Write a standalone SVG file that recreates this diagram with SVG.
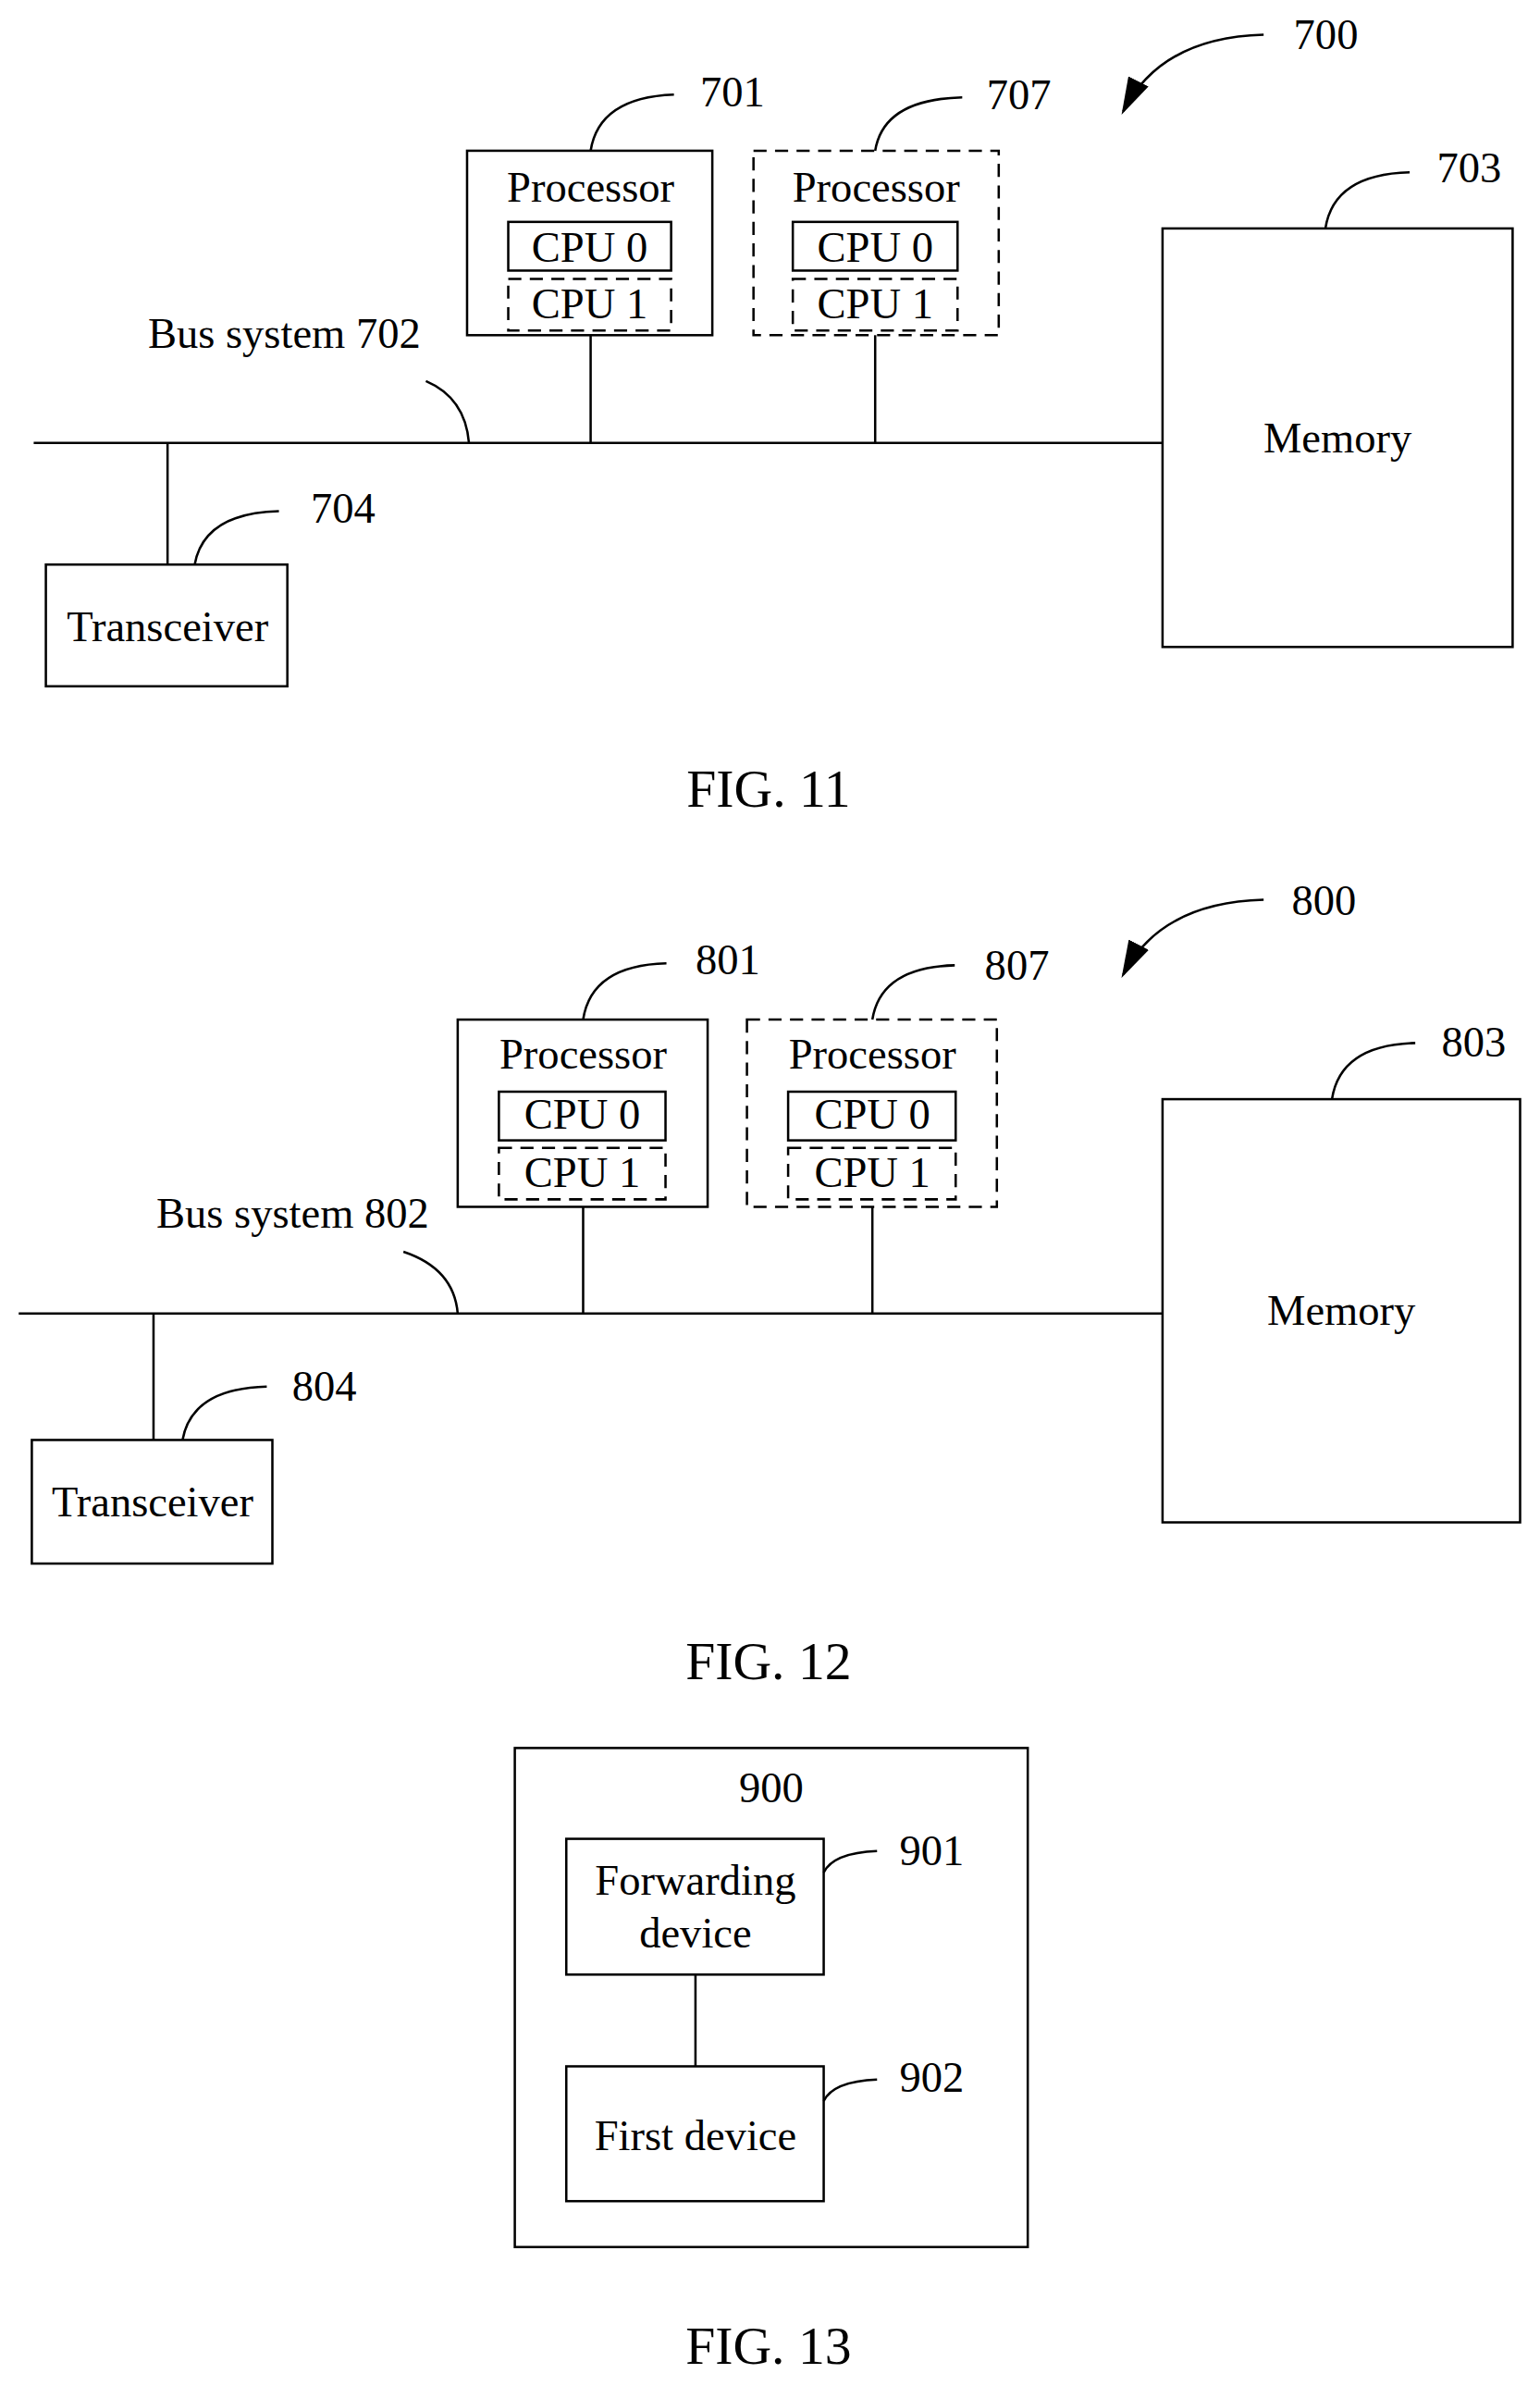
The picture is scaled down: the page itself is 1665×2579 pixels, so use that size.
<svg xmlns="http://www.w3.org/2000/svg" width="1665" height="2579" viewBox="0 0 1665 2579">
<style>
rect,path,line{fill:none;stroke:#000;stroke-width:2.5}
.d{stroke-dasharray:14,9}
text{font-family:"Liberation Serif","Times New Roman",serif;font-size:46px;fill:#000}
.c{text-anchor:middle}
.f{font-size:57px}
</style>
<defs><marker id="a" viewBox="0 0 20 20" refX="18" refY="10" markerWidth="40" markerHeight="40" orient="auto" markerUnits="userSpaceOnUse"><path d="M0,4 L20,10 L0,16 z" style="fill:#000;stroke:none"/></marker></defs>
<g transform="scale(1.012)">
<g id="fig11">
<g id="p701"><rect x="499" y="161" width="262" height="197"/><text class="c" x="631" y="215">Processor</text><rect x="543" y="237" width="174" height="52"/><text class="c" x="630" y="280">CPU 0</text><rect class="d" x="543" y="298" width="174" height="55"/><text class="c" x="630" y="340">CPU 1</text></g>
<g id="p707"><rect class="d" x="805" y="161" width="262" height="197"/><text class="c" x="936" y="215">Processor</text><rect x="847" y="237" width="176" height="52"/><text class="c" x="935" y="280">CPU 0</text><rect class="d" x="847" y="298" width="176" height="55"/><text class="c" x="935" y="340">CPU 1</text></g>
<g id="m703"><rect x="1242" y="244" width="374" height="447"/><text class="c" x="1429" y="483">Memory</text></g>
<g id="t704"><rect x="49" y="603" width="258" height="130"/><text class="c" x="179" y="685">Transceiver</text></g>
<g id="c11">
<line x1="36" y1="473" x2="1242" y2="473"/><line x1="631" y1="358" x2="631" y2="473"/><line x1="935" y1="358" x2="935" y2="473"/><line x1="179" y1="473" x2="179" y2="603"/>
<path d="M455,407 Q497,425 501,473"/><path d="M631,161 Q640,104 720,101"/><path d="M935,161 Q944,106 1028,104"/><path d="M1416,244 Q1425,186 1506,184"/><path d="M208,603 Q218,548 298,546"/>
<path d="M1350,37 Q1240,40 1200,119" marker-end="url(#a)"/>
</g>
<text x="158" y="372">Bus system 702</text><text x="748" y="114">701</text><text x="1054" y="117">707</text><text x="1382" y="52">700</text><text x="1535" y="195">703</text><text x="332" y="558">704</text>
<text class="c f" x="821" y="862">FIG. 11</text>
</g>

<g id="fig12">
<g id="p801"><rect x="489" y="1089" width="267" height="200"/><text class="c" x="623" y="1141">Processor</text><rect x="533" y="1166" width="178" height="52"/><text class="c" x="622" y="1206">CPU 0</text><rect class="d" x="533" y="1226" width="178" height="55"/><text class="c" x="622" y="1268">CPU 1</text></g>
<g id="p807"><rect class="d" x="798" y="1089" width="267" height="200"/><text class="c" x="932" y="1141">Processor</text><rect x="842" y="1166" width="179" height="52"/><text class="c" x="932" y="1206">CPU 0</text><rect class="d" x="842" y="1226" width="179" height="55"/><text class="c" x="932" y="1268">CPU 1</text></g>
<g id="m803"><rect x="1242" y="1174" width="382" height="452"/><text class="c" x="1433" y="1415">Memory</text></g>
<g id="t804"><rect x="34" y="1538" width="257" height="132"/><text class="c" x="163" y="1620">Transceiver</text></g>
<g id="c12">
<line x1="20" y1="1403" x2="1242" y2="1403"/><line x1="623" y1="1289" x2="623" y2="1403"/><line x1="932" y1="1289" x2="932" y2="1403"/><line x1="164" y1="1403" x2="164" y2="1538"/>
<path d="M431,1337 Q485,1355 489,1403"/><path d="M623,1089 Q632,1031 712,1029"/><path d="M932,1089 Q941,1033 1020,1031"/><path d="M1423,1174 Q1432,1116 1512,1114"/><path d="M195,1538 Q205,1483 285,1481"/>
<path d="M1350,961 Q1240,964 1200,1041" marker-end="url(#a)"/>
</g>
<text x="167" y="1311">Bus system 802</text><text x="743" y="1041">801</text><text x="1052" y="1046">807</text><text x="1380" y="977">800</text><text x="1540" y="1128">803</text><text x="312" y="1496">804</text>
<text class="c f" x="821" y="1793">FIG. 12</text>
</g>

<g id="fig13">
<g id="d900"><rect x="550" y="1867" width="548" height="533"/><text class="c" x="824" y="1925">900</text></g>
<g id="d901"><rect x="605" y="1964" width="275" height="145"/><text class="c" x="743" y="2024">Forwarding</text><text class="c" x="743" y="2080">device</text></g>
<g id="d902"><rect x="605" y="2207" width="275" height="144"/><text class="c" x="743" y="2296">First device</text></g>
<g id="c13"><line x1="743" y1="2109" x2="743" y2="2207"/><path d="M880,2000 Q890,1979 937,1977"/><path d="M880,2244 Q890,2223 937,2221"/></g>
<text x="961" y="1992">901</text><text x="961" y="2234">902</text>
<text class="c f" x="821" y="2525">FIG. 13</text>
</g>
</g>
</svg>
